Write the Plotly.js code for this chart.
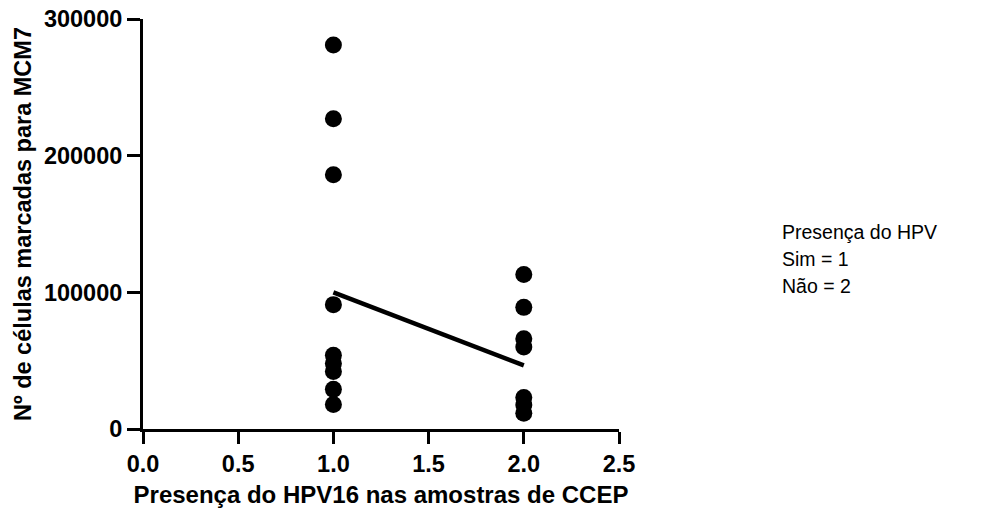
<!DOCTYPE html>
<html>
<head>
<meta charset="utf-8">
<script src="https://cdn.plot.ly/plotly-3.0.1.min.js"></script>
<style>html,body{margin:0;padding:0;background:#fff;}#chart{width:989px;height:511px;}</style>
</head>
<body>
<div id="chart"></div>
<script>
// Data
const groupSimX = [1, 1, 1, 1, 1, 1, 1, 1, 1];
const groupSimY = [281000, 227000, 186000, 91000, 54000, 48000, 42000, 29000, 18000];
const groupNaoX = [2, 2, 2, 2, 2, 2, 2];
const groupNaoY = [113000, 89000, 66000, 60000, 23000, 17500, 11500];
const lineX = [1, 2];
const lineY = [100000, 46500];
const xTickVals = [0, 0.5, 1, 1.5, 2, 2.5];
const xTickText = ["0.0", "0.5", "1.0", "1.5", "2.0", "2.5"];
const yTickVals = [0, 100000, 200000, 300000];
const yTickText = ["0", "100000", "200000", "300000"];
const noteLines = ["Presença do HPV", "Sim = 1", "Não = 2"];

const FAM = "Liberation Sans, Arial, sans-serif";
const tickFont = {family: FAM, size: 23.5, color: "#000", weight: "bold"};
const markerStyle = {color: "#000", size: 17};

const traces = [
  {x: groupSimX, y: groupSimY, mode: "markers", type: "scatter", marker: markerStyle, cliponaxis: false, hoverinfo: "skip"},
  {x: groupNaoX, y: groupNaoY, mode: "markers", type: "scatter", marker: markerStyle, cliponaxis: false, hoverinfo: "skip"},
  {x: lineX, y: lineY, mode: "lines", type: "scatter", line: {color: "#000", width: 4.5}, cliponaxis: false, hoverinfo: "skip"}
];

const noteY = [232, 259, 286];
const annotations = noteLines.map((t, i) => ({
  xref: "paper", yref: "paper",
  x: (780 - 143) / 476, y: (429 - noteY[i]) / 410,
  xanchor: "left", yanchor: "middle", align: "left",
  showarrow: false, text: t,
  font: {family: FAM, size: 19.5, color: "#000"}
}));

const layout = {
  width: 989, height: 511,
  margin: {l: 143, r: 370, t: 19, b: 82},
  paper_bgcolor: "#fff", plot_bgcolor: "#fff",
  showlegend: false,
  font: {family: FAM, color: "#000"},
  xaxis: {
    range: [0, 2.5], showgrid: false, zeroline: false,
    showline: true, linecolor: "#000", linewidth: 3,
    ticks: "outside", ticklen: 12, tickwidth: 3, tickcolor: "#000",
    tickvals: xTickVals, ticktext: xTickText,
    tickfont: tickFont,
    title: {text: "<b>Presença do HPV16 nas amostras de CCEP</b>", font: {family: FAM, size: 24, color: "#000"}, standoff: 10}
  },
  yaxis: {
    range: [0, 300000], showgrid: false, zeroline: false,
    showline: true, linecolor: "#000", linewidth: 3,
    ticks: "outside", ticklen: 13, tickwidth: 3, tickcolor: "#000",
    tickvals: yTickVals, ticktext: yTickText,
    tickfont: tickFont,
    title: {text: "<b>Nº de células marcadas para MCM7</b>", font: {family: FAM, size: 23.5, color: "#000"}, standoff: 6}
  },
  annotations: annotations
};

Plotly.newPlot("chart", traces, layout, {displayModeBar: false, staticPlot: true});
</script>
</body>
</html>
